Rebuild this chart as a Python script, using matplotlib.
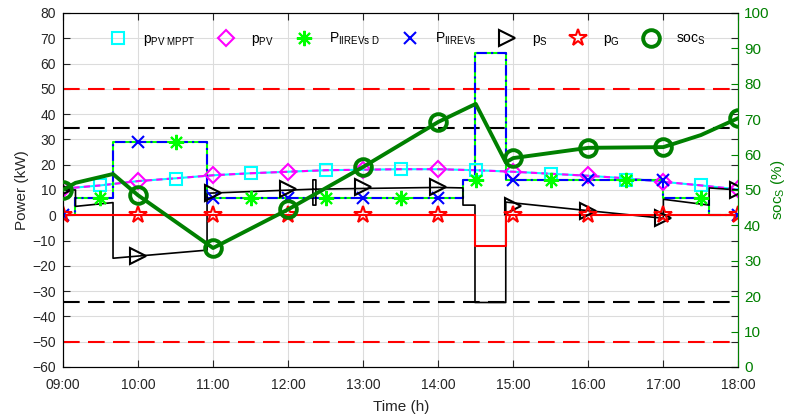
import numpy as np
import matplotlib
matplotlib.use("Agg")
from matplotlib import pyplot as plt
from matplotlib.lines import Line2D

plt.rcParams['font.family'] = ['Liberation Sans', 'DejaVu Sans']
plt.rcParams['mathtext.fontset'] = 'custom'
plt.rcParams['mathtext.rm'] = 'Liberation Sans'
plt.rcParams['mathtext.it'] = 'Liberation Sans'

# time in hours
hour_ticks = [9, 10, 11, 12, 13, 14, 15, 16, 17, 18]
hour_labels = ["09:00", "10:00", "11:00", "12:00", "13:00", "14:00", "15:00", "16:00", "17:00", "18:00"]
half_hours = [9.5, 10.5, 11.5, 12.5, 13.5, 14.5, 15.5, 16.5, 17.5]

# PV profile (MPPT and actual overlap)
t_pv = [9.0, 9.5, 10.0, 10.5, 11.0, 11.5, 12.0, 12.5, 13.0, 13.5, 14.0, 14.5, 15.0, 15.5, 16.0, 16.5, 17.0, 17.5, 18.0]
p_pv_mppt = [10.5, 11.8, 13.5, 14.6, 15.8, 16.6, 17.2, 17.8, 18.0, 18.2, 18.2, 17.8, 17.2, 16.4, 15.6, 14.6, 13.2, 11.8, 10.2]
p_pv = [10.5, 11.8, 13.5, 14.6, 15.8, 16.6, 17.2, 17.8, 18.0, 18.2, 18.2, 17.8, 17.2, 16.4, 15.6, 14.6, 13.2, 11.8, 10.2]
mppt_marks = [11.8, 14.5, 16.6, 17.8, 18.2, 17.8, 16.4, 14.0, 11.8]
pv_marks = [10.5, 13.5, 15.8, 17.2, 18.0, 18.2, 17.2, 15.8, 13.0, 10.2]

# EV charging power (step profile)
t_ev = [9.0, 9.167, 9.167, 9.667, 9.667, 10.92, 10.92, 14.33, 14.33, 14.49, 14.49, 14.9, 14.9, 17.0, 17.0, 17.61, 17.61, 18.0]
p_iirevs = [0, 0, 7, 7, 29, 29, 7, 7, 14, 14, 64, 64, 14, 14, 6.8, 6.8, 0, 0]
p_iirevs_d = [0, 0, 7, 7, 29, 29, 7, 7, 14, 14, 64, 64, 14, 14, 6.8, 6.8, 0, 0]
iirevs_marks = [0, 29, 7, 7, 7, 7, 14, 14, 14, 0]
iirevs_d_marks = [7, 29, 7, 7, 7, 14, 14, 14, 6.7]

# storage power
t_s = [9.0, 9.167, 9.167, 9.667, 9.667, 10.92, 10.92, 12.33, 12.33, 12.37, 12.37, 12.33, 12.33, 14.0, 14.33, 14.33,
       14.49, 14.49, 14.9, 14.9, 16.0, 17.0, 17.0, 17.61, 17.61, 18.0]
p_s = [10, 10, 3.5, 5, -17, -13.8, 8.7, 10.3, 14, 14, 4, 4, 10.3, 11, 10.8, 4,
       4, -34.5, -34.5, 5.2, 1.8, -1.2, 6.3, 4, 10.8, 10]
s_marks = [10, -16.3, 8.7, 10.5, 11, 11, 3.8, 1.5, -1.0, 10]

# grid power
t_g = [9.0, 14.49, 14.49, 14.9, 14.9, 18.0]
p_g = [0, 0, -12, -12, 0, 0]
g_marks = [0, 0, 0, 0, 0, 0, 0, 0, 0, 0]

# state of charge of storage
t_soc = [9.0, 9.167, 9.667, 10.0, 11.0, 12.0, 13.0, 14.0, 14.42, 14.5, 14.9, 15.0, 16.0, 17.0, 17.5, 18.0]
soc_s = [50, 52, 54.5, 48.5, 33.6, 44.5, 56.5, 69.2, 73.5, 74.3, 57.8, 59, 61.9, 62.1, 65.5, 70.3]
soc_marks = [50, 48.5, 33.6, 44.5, 56.5, 69.2, 59, 61.9, 62.1, 70.3]

p_lim_g = 50
p_lim_s = 34.5

fig = plt.figure(figsize=(7.9, 4.17), dpi=100)
ax = fig.add_axes([0.0797, 0.12, 0.855, 0.849])
ax2 = ax.twinx()

ax.grid(True, color="#dcdcdc", lw=0.8)
ax.set_axisbelow(True)

dash = (0, (8, 4))
ax.axhline(p_lim_g, color="red", ls=dash, lw=1.5)
ax.axhline(-p_lim_g, color="red", ls=dash, lw=1.5)
ax.axhline(p_lim_s, color="black", ls=dash, lw=1.5)
ax.axhline(-p_lim_s, color="black", ls=dash, lw=1.5)

ax.plot(t_pv, p_pv_mppt, color="cyan", lw=1.5)
ax.plot(t_pv, p_pv, color="magenta", lw=1.5, ls=(0, (3, 2)))
ax.plot(t_ev, p_iirevs_d, color="#00ff00", lw=1.5)
ax.plot(t_ev, p_iirevs, color="blue", lw=1.5, ls=(0, (5, 2, 1, 2)))
ax.plot(t_s, p_s, color="black", lw=1.2)
ax.plot(t_g, p_g, color="red", lw=1.5)

ms = dict(ls="none", mfc="none", mew=1.5)
ax.plot(half_hours, mppt_marks, marker="s", ms=8, mec="cyan", **ms)
ax.plot(hour_ticks, pv_marks, marker="D", ms=8, mec="magenta", **ms)
ax.plot(half_hours, iirevs_d_marks, marker=(8, 2, 0), ms=11, mec="#00ff00", **ms)
ax.plot(hour_ticks, iirevs_marks, marker="x", ms=9, mec="blue", **ms)
ax.plot(hour_ticks, s_marks, marker=">", ms=11, mec="black", **ms)
ax.plot(hour_ticks, g_marks, marker="*", ms=13, mec="red", **ms)

ax2.plot(t_soc, soc_s, color="green", lw=2.8, zorder=3)
ax2.plot(hour_ticks, soc_marks, ls="none", marker="o", ms=12, mfc="none", mec="green", mew=2.8, zorder=3)

ax.set_xlim(9, 18)
ax.set_ylim(-60, 80)
ax.set_yticks(range(-60, 81, 10))
ax.set_xticks(hour_ticks)
ax.set_xticklabels(hour_labels)
ax2.set_ylim(0, 100)
ax2.set_yticks(range(0, 101, 10))

ax.tick_params(direction="in", top=True, right=True, length=5, labelsize=10, colors="#262626")
ax.tick_params(axis="x", pad=8)
ax.tick_params(axis="y", pad=5)
ax2.tick_params(direction="in", length=5, labelsize=11, colors="green", pad=4)
ax2.spines["right"].set_color("green")
for s in ["left", "top", "bottom"]:
    ax.spines[s].set_color("#262626")

ax.set_xlabel("Time (h)", fontsize=11, color="#262626", labelpad=6)
ax.set_ylabel("Power (kW)", fontsize=11, color="#262626", labelpad=2)
ax2.set_ylabel(r"soc$_\mathrm{S}$ (%)", fontsize=11, color="green", labelpad=0)

handles = [
    Line2D([], [], marker="s", ms=8, mec="cyan", **ms),
    Line2D([], [], marker="D", ms=8, mec="magenta", **ms),
    Line2D([], [], marker=(8, 2, 0), ms=11, mec="#00ff00", **ms),
    Line2D([], [], marker="x", ms=9, mec="blue", **ms),
    Line2D([], [], marker=">", ms=11, mec="black", **ms),
    Line2D([], [], marker="*", ms=13, mec="red", **ms),
    Line2D([], [], marker="o", ms=12, mec="green", ls="none", mfc="none", mew=2.8),
]
labels = [r"p$_\mathrm{PV\ MPPT}$", r"p$_\mathrm{PV}$", r"P$_\mathrm{IIREVs\ D}$", r"P$_\mathrm{IIREVs}$",
          r"p$_\mathrm{S}$", r"p$_\mathrm{G}$", r"soc$_\mathrm{S}$"]
ax2.legend(handles, labels, ncol=7, frameon=False, loc="upper center", bbox_to_anchor=(0.51, 0.985),
           fontsize=10, handlelength=1.2, columnspacing=1.6, handletextpad=1.2)

fig.savefig("out.png", dpi=100)
